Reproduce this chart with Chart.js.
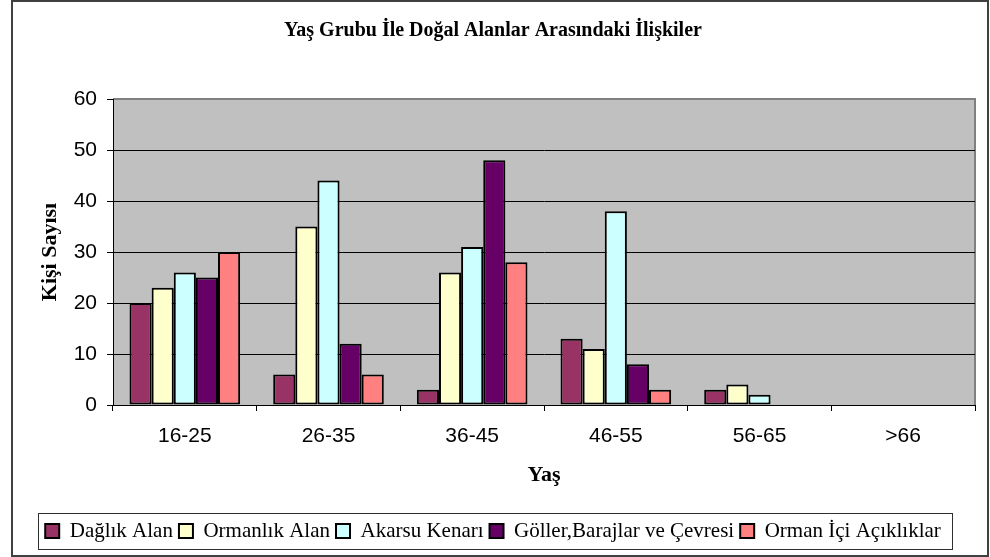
<!DOCTYPE html>
<html lang="tr">
<head>
<meta charset="utf-8">
<title>Yaş Grubu İle Doğal Alanlar Arasındaki İlişkiler</title>
<script src="https://cdn.jsdelivr.net/npm/chart.js@4/dist/chart.umd.min.js"></script>
<style>
  html, body { margin: 0; padding: 0; background: #fff; }
  #wrap { width: 990px; height: 557px; }
</style>
</head>
<body>
<div id="wrap"><canvas id="chart" width="990" height="557"></canvas></div>
<script>
// Veriler
const ageGroups = ['16-25', '26-35', '36-45', '46-55', '56-65', '>66'];
const daglikAlan = [20, 6, 3, 13, 3, 0];
const ormanlikAlan = [23, 35, 26, 11, 4, 0];
const akarsuKenari = [26, 44, 31, 38, 2, 0];
const gollerBarajlar = [25, 12, 48, 8, 0, 0];
const ormanIciAciklik = [30, 6, 28, 3, 0, 0];
const yTicks = [0, 10, 20, 30, 40, 50, 60];

const seriesNames = ['Dağlık Alan', 'Ormanlık Alan', 'Akarsu Kenarı', 'Göller,Barajlar ve Çevresi', 'Orman İçi Açıklıklar'];
const seriesData = [daglikAlan, ormanlikAlan, akarsuKenari, gollerBarajlar, ormanIciAciklik];
const seriesColors = ['#993366', '#FFFFCC', '#CCFFFF', '#660066', '#FF8080'];

// Fond gris de la zone de tracé + cadres
const framePlugin = {
    id: 'frames',
    beforeDraw(chart) {
        const {ctx, chartArea: a} = chart;
        ctx.save();
        ctx.fillStyle = '#C0C0C0';
        ctx.fillRect(a.left, a.top, a.right - a.left, a.bottom - a.top);
        ctx.strokeStyle = '#808080';
        ctx.lineWidth = 2;
        ctx.beginPath();
        ctx.moveTo(a.left, a.top);
        ctx.lineTo(a.right, a.top);
        ctx.lineTo(a.right, a.bottom);
        ctx.stroke();
        ctx.restore();
    },
    afterDraw(chart) {
        const {ctx} = chart;
        ctx.save();
        ctx.strokeStyle = '#404040';
        ctx.lineWidth = 2;
        ctx.strokeRect(12, 1, 976, 555);
        ctx.restore();
    },
    beforeDatasetsDraw(chart) {
        // cadre de la légende
        const boxes = chart.legend && chart.legend.legendHitBoxes;
        if (!boxes || !boxes.length) return;
        const {ctx} = chart;
        let left = Infinity, right = -Infinity, top = Infinity, bottom = -Infinity;
        boxes.forEach(b => {
            left = Math.min(left, b.left);
            right = Math.max(right, b.left + b.width);
            top = Math.min(top, b.top);
            bottom = Math.max(bottom, b.top + b.height);
        });
        ctx.save();
        ctx.strokeStyle = '#303030';
        ctx.lineWidth = 1;
        ctx.strokeRect(Math.round(left - 7) + 0.5, Math.round(top - 8) + 0.5,
            Math.round(right - left + 18), Math.round(bottom - top + 15));
        ctx.restore();
    }
};

const ctx = document.getElementById('chart').getContext('2d');
new Chart(ctx, {
    type: 'bar',
    data: {
        labels: ageGroups,
        datasets: seriesNames.map((name, i) => ({
            label: name,
            data: seriesData[i].map(v => v === 0 ? null : v),
            backgroundColor: seriesColors[i],
            borderColor: '#000000',
            borderWidth: 2,
            borderSkipped: false,
            categoryPercentage: 0.77,
            barPercentage: 1
        }))
    },
    options: {
        responsive: false,
        animation: false,
        layout: {
            padding: { left: 11, right: 15, top: 0, bottom: 5.5 }
        },
        plugins: {
            title: {
                display: true,
                text: 'Yaş Grubu İle Doğal Alanlar Arasındaki İlişkiler',
                color: '#000',
                font: { family: 'Liberation Serif', size: 20, weight: 'bold' },
                padding: { top: 19, bottom: 56 }
            },
            legend: {
                position: 'bottom',
                labels: {
                    color: '#000',
                    font: { family: 'Liberation Serif', size: 21 },
                    boxWidth: 14,
                    boxHeight: 14,
                    padding: 6,
                    generateLabels(chart) {
                        return chart.data.datasets.map((ds, i) => ({
                            text: ds.label,
                            fillStyle: ds.backgroundColor,
                            strokeStyle: '#000',
                            lineWidth: 2,
                            fontColor: '#000',
                            hidden: false,
                            datasetIndex: i
                        }));
                    }
                }
            },
            tooltip: { enabled: false }
        },
        scales: {
            x: {
                afterFit(scale) { scale.height = 109.5; },
                grid: {
                    drawOnChartArea: false,
                    drawTicks: true,
                    tickLength: 6,
                    color: '#000'
                },
                border: { color: '#000', width: 1 },
                ticks: {
                    color: '#000',
                    padding: 13,
                    font: { family: 'Liberation Sans', size: 21 }
                },
                title: {
                    display: true,
                    text: 'Yaş',
                    color: '#000',
                    font: { family: 'Liberation Serif', size: 22, weight: 'bold' },
                    padding: { top: 0, bottom: 26 }
                }
            },
            y: {
                min: 0,
                max: 60,
                afterFit(scale) { scale.width = 102; },
                afterBuildTicks(scale) { scale.ticks = yTicks.map(v => ({ value: v })); },
                grid: {
                    color: ctx2 => ctx2.tick && ctx2.tick.value === 60 ? '#808080' : '#000',
                    tickColor: '#000',
                    tickLength: 6,
                    lineWidth: 1
                },
                border: { color: '#000', width: 1 },
                ticks: {
                    color: '#000',
                    padding: 10,
                    font: { family: 'Liberation Sans', size: 21 }
                },
                title: {
                    display: true,
                    text: 'Kişi Sayısı',
                    color: '#000',
                    font: { family: 'Liberation Serif', size: 22, weight: 'bold' },
                    padding: { top: 26, bottom: 0 }
                }
            }
        }
    },
    plugins: [framePlugin]
});
</script>
</body>
</html>
